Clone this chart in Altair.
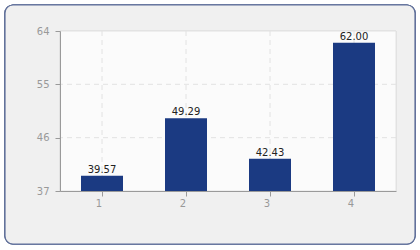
import altair as alt
import pandas as pd

categories = ["1", "2", "3", "4"]
values = [39.57, 49.29, 42.43, 62.00]
y_ticks = [37, 46, 55, 64]
grid_y = [46, 55]
y_min, y_max = 37, 64

df = pd.DataFrame({"cat": categories, "val": values})
df["label"] = [f"{v:.2f}" for v in values]
grid_df = pd.DataFrame({"g": grid_y})

W, H = 336, 160
FONT = "DejaVu Sans"

yscale = alt.Scale(domain=[y_min, y_max], nice=False, zero=False)
xs = alt.X("cat:N", sort=categories,
           scale=alt.Scale(paddingInner=0.5, paddingOuter=0.25),
           axis=alt.Axis(title=None, labelAngle=0, grid=False, domainColor="#9a9a9a",
                         tickColor="#9a9a9a", tickSize=5, labelColor="#999999",
                         labelFont=FONT, labelFontSize=10, labelPadding=7, zindex=1))
ys = alt.Y("val:Q", scale=yscale,
           axis=alt.Axis(title=None, values=y_ticks, grid=False, domainColor="#9a9a9a",
                         tickColor="#9a9a9a", tickSize=5, labelColor="#999999",
                         labelFont=FONT, labelFontSize=10, labelPadding=6, zindex=1))

base = alt.Chart(df)

frame = base.mark_rect(fill="#f0f0f0", stroke="#5f6f99", strokeWidth=1.2,
                       cornerRadius=8, clip=False).encode(
    x=alt.value(-55), x2=alt.value(355), y=alt.value(-26), y2=alt.value(213))
plotbg = base.mark_rect(fill="#fbfbfb", stroke="#e2e2e2", strokeWidth=1).encode(
    x=alt.value(0), x2=alt.value(W), y=alt.value(0), y2=alt.value(H))

hgrid = alt.Chart(grid_df).mark_rule(color="#e2e2e2", strokeDash=[5, 4], strokeWidth=1).encode(
    y=alt.Y("g:Q", scale=yscale))
vgrid = base.mark_rule(color="#e2e2e2", strokeDash=[5, 4], strokeWidth=1).encode(
    x=alt.X("cat:N", sort=categories), y=alt.value(0), y2=alt.value(H))

bars = base.mark_bar(color="#1b3a82").encode(x=xs, y=ys, y2=alt.datum(y_min))
text = base.mark_text(baseline="bottom", dy=-1, font=FONT, fontSize=10, color="#222222").encode(
    x=alt.X("cat:N", sort=categories), y="val:Q", text="label:N")

chart = alt.layer(frame, plotbg, hgrid, vgrid, bars, text).properties(
    width=W, height=H,
    autosize=alt.AutoSizeParams(type="none"),
    padding={"left": 60, "top": 31, "right": 24, "bottom": 59},
    background="white",
).configure_view(stroke=None)

chart.save("out.html", embed_options={"renderer": "svg", "actions": False})
